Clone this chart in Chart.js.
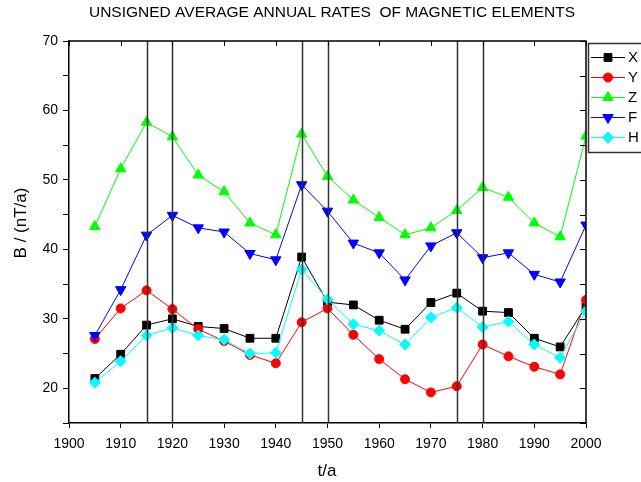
<!DOCTYPE html>
<html>
<head>
<meta charset="utf-8">
<script src="https://cdn.jsdelivr.net/npm/chart.js@4.4.0/dist/chart.umd.min.js"></script>
<style>
html, body { margin: 0; padding: 0; background: #fff; }
</style>
</head>
<body>
<canvas id="myChart" width="641" height="482"></canvas>
<script>
// years of the averages
const years = [1905, 1910, 1915, 1920, 1925, 1930, 1935, 1940, 1945, 1950,
               1955, 1960, 1965, 1970, 1975, 1980, 1985, 1990, 1995, 2000];

// unsigned average annual rates, nT/a
const xRates = [21.4, 24.9, 29.1, 30.0, 28.9, 28.6, 27.2, 27.2, 38.9, 32.4,
                32.0, 29.8, 28.5, 32.35, 33.7, 31.1, 30.9, 27.2, 25.95, 31.8];
const yRates = [27.1, 31.5, 34.1, 31.4, 28.5, 26.8, 24.8, 23.6, 29.5, 31.5,
                27.7, 24.2, 21.3, 19.4, 20.3, 26.3, 24.6, 23.1, 22.0, 32.7];
const zRates = [43.3, 51.6, 58.3, 56.2, 50.7, 48.3, 43.8, 42.1, 56.6, 50.5,
                47.1, 44.6, 42.1, 43.1, 45.6, 48.9, 47.5, 43.8, 41.8, 56.3];
const fRates = [27.6, 34.2, 42.05, 44.9, 43.1, 42.5, 39.4, 38.5, 49.3, 45.5,
                40.9, 39.5, 35.6, 40.5, 42.4, 38.8, 39.5, 36.4, 35.3, 43.5];
const hRates = [20.8, 23.9, 27.6, 28.7, 27.6, 27.0, 25.0, 25.1, 37.1, 32.8,
                29.2, 28.3, 26.3, 30.2, 31.6, 28.8, 29.6, 26.3, 24.4, 31.1];

const seriesNames = ['X', 'Y', 'Z', 'F', 'H'];

// vertical marker lines
const markYears = [1915, 1920, 1945, 1950, 1975, 1980];

const chartTitle = 'UNSIGNED AVERAGE ANNUAL RATES  OF MAGNETIC ELEMENTS';
const xTitle = 't/a';
const yTitle = 'B / (nT/a)';

function pairs(vals) {
    return years.map((y, i) => ({x: y, y: vals[i]}));
}

function makeSet(name, vals, color, style, radius, rotation, order) {
    return {
        label: name,
        data: pairs(vals),
        borderColor: color,
        backgroundColor: color,
        borderWidth: 1,
        pointStyle: style,
        pointRadius: radius,
        pointRotation: rotation,
        pointBorderWidth: 1,
        pointBorderColor: color,
        pointBackgroundColor: color,
        order: order
    };
}

const font = "'Liberation Sans', Arial, sans-serif";

const framePlugin = {
    id: 'frame',
    afterDatasetsDraw(chart) {
        const ctx = chart.ctx;
        const a = chart.chartArea;
        const xs = chart.scales.x;
        const ys = chart.scales.y;
        ctx.save();
        // marker lines
        ctx.strokeStyle = '#333';
        ctx.lineWidth = 1.5;
        markYears.forEach(yr => {
            const px = Math.round(xs.getPixelForValue(yr)) + 0.5;
            ctx.beginPath();
            ctx.moveTo(px, a.top);
            ctx.lineTo(px, a.bottom);
            ctx.stroke();
        });
        // top and right border with inward ticks
        ctx.strokeStyle = '#000';
        ctx.lineWidth = 1.5;
        ctx.beginPath();
        ctx.moveTo(a.left, a.top);
        ctx.lineTo(a.right, a.top);
        ctx.lineTo(a.right, a.bottom);
        ctx.stroke();
        ctx.lineWidth = 1;
        xs.ticks.forEach(t => {
            const px = Math.round(xs.getPixelForValue(t.value)) + 0.5;
            ctx.beginPath();
            ctx.moveTo(px, a.top);
            ctx.lineTo(px, a.top + 5);
            ctx.stroke();
        });
        ys.ticks.forEach(t => {
            const py = Math.round(ys.getPixelForValue(t.value)) + 0.5;
            ctx.beginPath();
            ctx.moveTo(a.right, py);
            ctx.lineTo(a.right - 6, py);
            ctx.stroke();
        });
        ctx.restore();
    },
    afterDraw(chart) {
        const ctx = chart.ctx;
        ctx.save();
        ctx.fillStyle = '#000';
        ctx.textAlign = 'center';
        ctx.textBaseline = 'middle';
        // title
        ctx.font = '15.5px ' + font;
        ctx.fillText(chartTitle, 332, 13);
        // axis titles
        ctx.font = '17px ' + font;
        ctx.fillText(xTitle, 327, 471);
        ctx.translate(21, 223);
        ctx.rotate(-Math.PI / 2);
        ctx.fillText(yTitle, 0, 0);
        ctx.setTransform(1, 0, 0, 1, 0, 0);

        // legend box
        const bx = 588.5, by = 43.5;
        ctx.fillStyle = '#fff';
        ctx.fillRect(bx, by, 60, 109);
        ctx.strokeStyle = '#333';
        ctx.lineWidth = 1.5;
        ctx.strokeRect(bx, by, 60, 109);
        ctx.font = '15px ' + font;
        ctx.textAlign = 'left';
        chart.data.datasets.forEach((ds, i) => {
            const ly = 57.5 + i * 20;
            ctx.strokeStyle = ds.borderColor;
            ctx.lineWidth = 1;
            ctx.beginPath();
            ctx.moveTo(591, ly);
            ctx.lineTo(625, ly);
            ctx.stroke();
            ctx.fillStyle = ds.pointBackgroundColor;
            Chart.helpers.drawPoint(ctx, {
                pointStyle: ds.pointStyle,
                radius: ds.pointRadius,
                rotation: ds.pointRotation,
                borderWidth: 1
            }, 608, ly);
            ctx.fillStyle = '#000';
            ctx.fillText(ds.label, 628, ly);
        });
        ctx.restore();
    }
};

new Chart('myChart', {
    type: 'line',
    data: {
        datasets: [
            makeSet(seriesNames[0], xRates, '#000000', 'rect', 5.5, 0, 5),
            makeSet(seriesNames[1], yRates, '#ff0000', 'circle', 4.5, 0, 4),
            makeSet(seriesNames[2], zRates, '#00ff00', 'triangle', 6, 0, 3),
            makeSet(seriesNames[3], fRates, '#0000ff', 'triangle', 6, 180, 2),
            makeSet(seriesNames[4], hRates, '#00ffff', 'rectRot', 5.5, 0, 1)
        ]
    },
    options: {
        responsive: false,
        animation: false,
        layout: {padding: {top: 41, right: 55, left: 0, bottom: 0}},
        plugins: {
            legend: {display: false},
            tooltip: {enabled: false}
        },
        scales: {
            x: {
                type: 'linear',
                min: 1900,
                max: 2000,
                afterFit: s => { s.height = 59; },
                ticks: {
                    stepSize: 10,
                    color: '#000',
                    font: {family: font, size: 14},
                    padding: 8,
                    callback: v => String(v)
                },
                grid: {drawOnChartArea: false, color: '#000', tickLength: 5},
                border: {color: '#000', width: 1.5}
            },
            y: {
                min: 15,
                max: 70,
                afterFit: s => { s.width = 69; },
                ticks: {
                    stepSize: 5,
                    autoSkip: false,
                    color: '#000',
                    font: {family: font, size: 14},
                    padding: 5,
                    callback: v => (v % 10 === 0 ? String(v) : '')
                },
                grid: {drawOnChartArea: false, color: '#000', tickLength: 6},
                border: {color: '#000', width: 1.5}
            }
        }
    },
    plugins: [framePlugin]
});
</script>
</body>
</html>
